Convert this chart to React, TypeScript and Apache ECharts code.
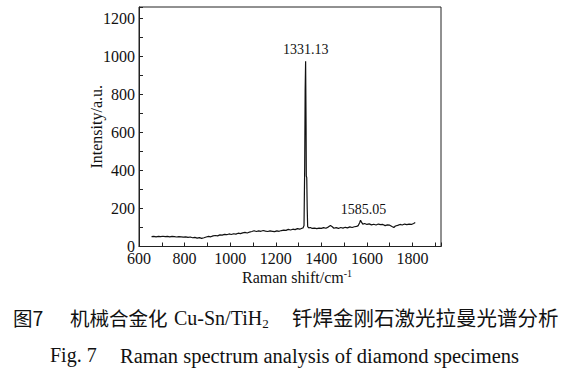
import React, { useEffect, useRef } from "react";
import * as echarts from "echarts";

const ramanShift: number[] = [
  655, 665, 675, 685, 695, 705, 715, 725, 735, 745, 755, 765, 775, 785, 795, 805, 815, 825, 835, 845,
  855, 865, 875, 885, 895, 905, 915, 925, 935, 945, 955, 965, 975, 985, 995, 1005, 1015, 1025, 1035, 1045,
  1055, 1065, 1075, 1085, 1095, 1105, 1115, 1125, 1135, 1145, 1155, 1165, 1175, 1185, 1195, 1205, 1215, 1225, 1235, 1245,
  1255, 1265, 1275, 1285, 1295, 1305, 1315, 1320, 1324, 1327, 1329, 1331, 1333, 1334, 1336, 1338, 1340, 1345, 1352, 1360,
  1370, 1380, 1390, 1400, 1410, 1420, 1430, 1440, 1448, 1455, 1465, 1475, 1485, 1495, 1505, 1515, 1525, 1535, 1545, 1555,
  1562, 1568, 1572, 1576, 1582, 1590, 1600, 1610, 1620, 1630, 1640, 1650, 1660, 1670, 1680, 1690, 1700, 1710, 1718, 1725,
  1735, 1745, 1755, 1765, 1775, 1785, 1795, 1805, 1812,
];
const intensity: number[] = [
  52, 53, 51, 53, 52, 54, 52, 53, 51, 53, 52, 50, 52, 51, 49, 51, 48, 50, 46, 48,
  44, 47, 43, 46, 50, 53, 51, 56, 58, 56, 61, 60, 64, 62, 66, 63, 67, 65, 70, 68,
  72, 74, 71, 76, 79, 83, 79, 82, 80, 84, 81, 79, 82, 80, 78, 82, 80, 84, 86, 85,
  90, 87, 91, 89, 94, 91, 96, 98, 110, 420, 820, 975, 640, 370, 362, 200, 105, 98, 100, 95,
  97, 94, 97, 95, 99, 96, 102, 110, 104, 96, 99, 95, 100, 97, 101, 98, 103, 100, 104, 106,
  110, 125, 138, 128, 118, 121, 116, 119, 114, 117, 113, 118, 115, 116, 110, 114, 112, 105, 100, 108,
  111, 116, 113, 118, 115, 118, 116, 121, 126,
];
const peakLabels: { x: number; y: number; text: string }[] = [
  { x: 1331.13, y: 975, text: "1331.13" },
  { x: 1585.05, y: 134, text: "1585.05" },
];
const xTickLabels = [600, 800, 1000, 1200, 1400, 1600, 1800];
const yTickLabels = [0, 200, 400, 600, 800, 1000, 1200];
const captionCN = ["图7", "机械合金化", "Cu-Sn/TiH", "钎焊金刚石激光拉曼光谱分析"];
const captionEN = ["Fig. 7", "Raman spectrum analysis of diamond specimens"];

const SERIF = "'Liberation Serif', 'Times New Roman', serif";
const CJK = "'Noto Sans CJK SC', sans-serif";

export default function App() {
  const ref = useRef<HTMLDivElement>(null);
  useEffect(() => {
    if (!ref.current) return;
    const chart = echarts.init(ref.current, undefined, { renderer: "svg" });
    const data = ramanShift.map((x, i) => [x, intensity[i]]);
    chart.setOption({
      animation: false,
      backgroundColor: "#fff",
      grid: {
        left: 139,
        right: 143,
        top: 7,
        bottom: 135.5,
        show: true,
        borderColor: "#222",
        borderWidth: 1,
        containLabel: false,
      },
      xAxis: {
        type: "value",
        min: 600,
        max: 1925,
        interval: 100,
        name: "Raman shift/cm{sup|-1}",
        nameLocation: "middle",
        nameGap: 22,
        nameMoveOverlap: false,
        nameTextStyle: {
          fontFamily: SERIF,
          fontSize: 16,
          color: "#111",
          padding: [0, 0, 0, 14],
          rich: { sup: { fontFamily: SERIF, fontSize: 10, verticalAlign: "top", padding: [0, 0, 8, 0] } },
        },
        axisLine: { show: true, lineStyle: { color: "#222", width: 1 } },
        axisTick: { show: true, inside: true, length: 4, lineStyle: { color: "#222" } },
        axisLabel: {
          margin: 4,
          fontFamily: SERIF,
          fontSize: 16,
          color: "#111",
          formatter: (v: number) => (xTickLabels.includes(v) ? String(v) : ""),
        },
        splitLine: { show: false },
      },
      yAxis: {
        type: "value",
        min: 0,
        max: 1260,
        interval: 100,
        name: "Intensity/a.u.",
        nameLocation: "middle",
        nameGap: 35,
        nameMoveOverlap: false,
        nameTextStyle: { fontFamily: SERIF, fontSize: 16, color: "#111" },
        axisLine: { show: true, lineStyle: { color: "#222", width: 1 } },
        axisTick: { show: true, inside: true, length: 4, lineStyle: { color: "#222" } },
        axisLabel: {
          margin: 4,
          fontFamily: SERIF,
          fontSize: 16,
          color: "#111",
          formatter: (v: number) => (yTickLabels.includes(v) ? String(v) : ""),
        },
        splitLine: { show: false },
      },
      series: [
        {
          type: "line",
          data,
          showSymbol: false,
          symbol: "none",
          lineStyle: { color: "#111", width: 1.2 },
          markPoint: {
            symbol: "circle",
            symbolSize: 0,
            label: {
              show: true,
              position: "top",
              distance: 5,
              fontFamily: SERIF,
              fontSize: 14,
              color: "#111",
              formatter: (p: any) => p.name,
            },
            data: peakLabels.map((p) => ({ name: p.text, coord: [p.x, p.y] })),
          },
        },
      ],
      graphic: [
        {
          type: "text",
          left: 13,
          top: 308,
          style: { text: captionCN[0], font: `19.5px ${CJK}`, fill: "#111" },
        },
        {
          type: "text",
          left: 70,
          top: 308,
          style: { text: captionCN[1], font: `19.5px ${CJK}`, fill: "#111" },
        },
        {
          type: "text",
          left: 174,
          top: 308,
          style: {
            text: captionCN[2] + "{sub|2}",
            font: `20px ${SERIF}`,
            fill: "#111",
            rich: { sub: { fontFamily: SERIF, fontSize: 13, verticalAlign: "bottom", padding: [11, 0, 0, 0] } },
          },
        },
        {
          type: "text",
          left: 292,
          top: 307,
          style: { text: captionCN[3], font: `20.5px ${CJK}`, fill: "#111" },
        },
        {
          type: "text",
          left: 50,
          top: 345,
          style: { text: captionEN[0], font: `20px ${SERIF}`, fill: "#111" },
        },
        {
          type: "text",
          left: 120,
          top: 345,
          style: { text: captionEN[1], font: `20.5px ${SERIF}`, fill: "#111" },
        },
      ],
    });
    return () => chart.dispose();
  }, []);
  return (
    <div
      ref={ref}
      style={{ position: "fixed", left: 0, top: 0, width: 584, height: 382, background: "#fff" }}
    />
  );
}
